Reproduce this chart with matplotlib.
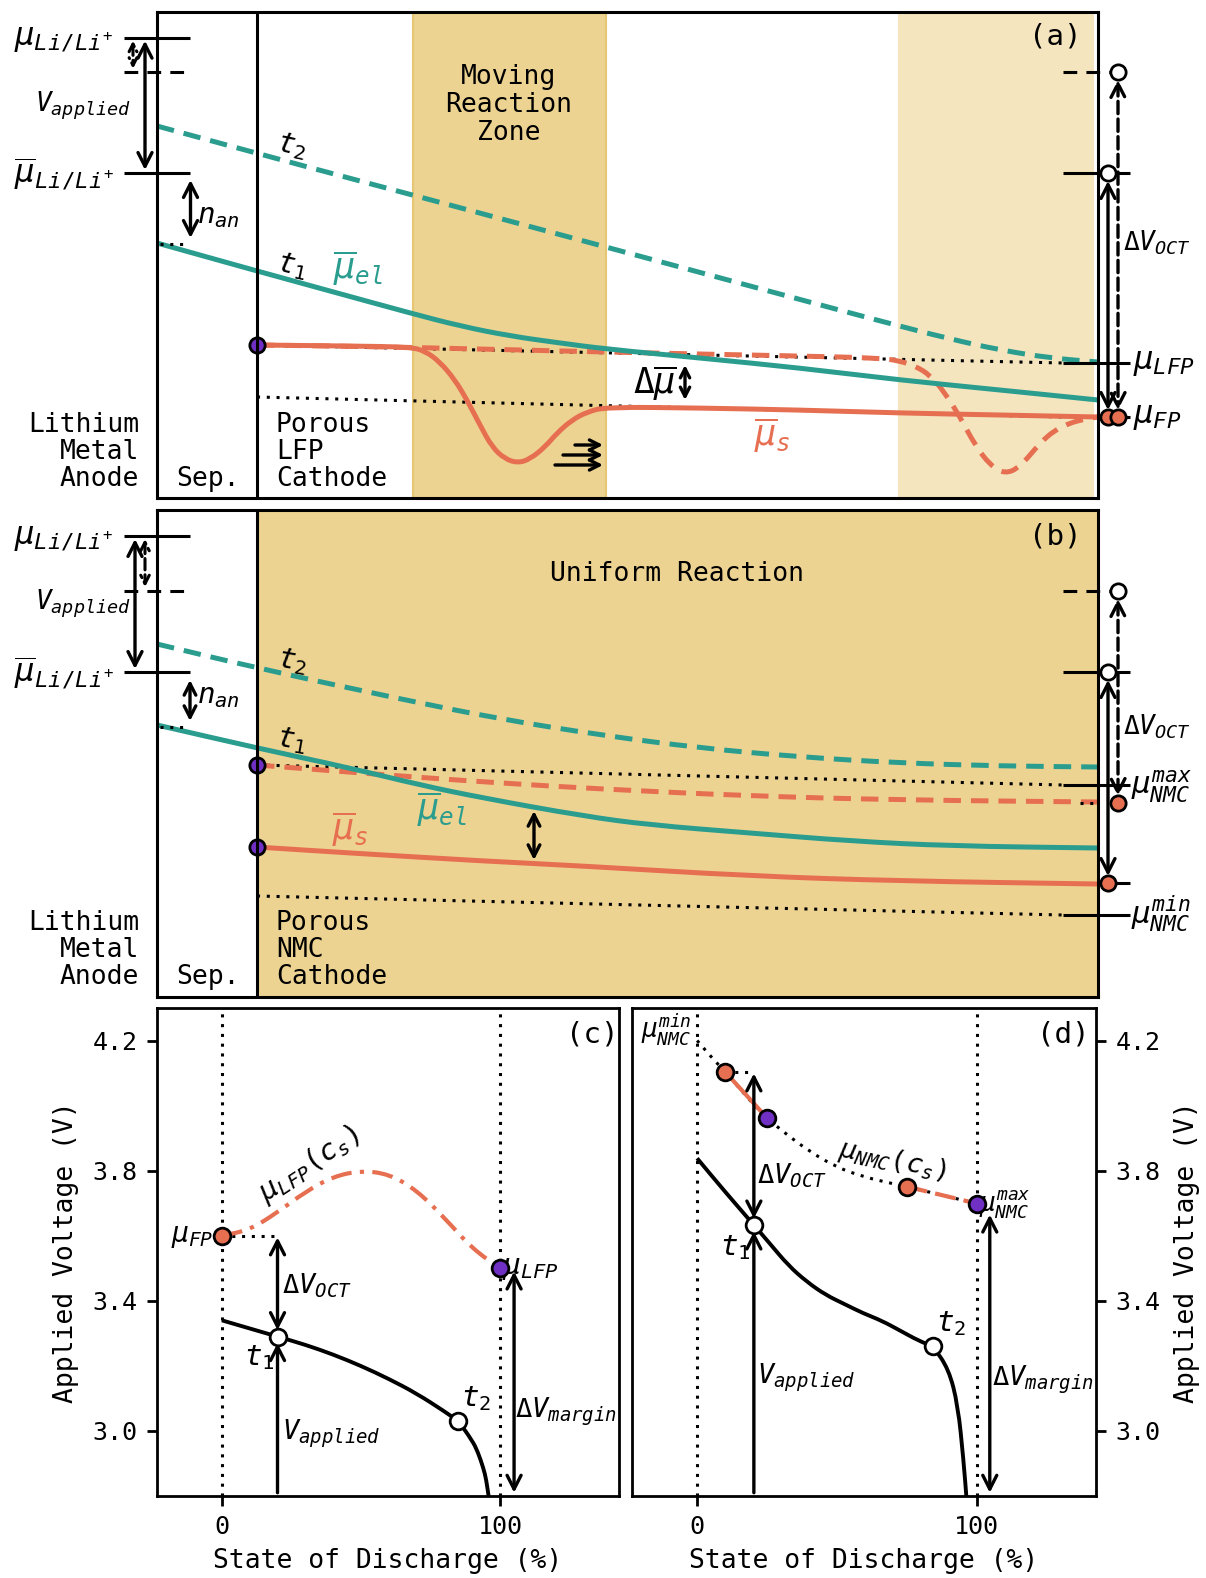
import matplotlib
matplotlib.use('Agg')
import matplotlib.pyplot as plt
from matplotlib.path import Path
from matplotlib.patches import PathPatch

plt.rcParams['font.family'] = ['DejaVu Sans Mono', 'DejaVu Sans']
plt.rcParams['mathtext.fontset'] = 'custom'
plt.rcParams['mathtext.rm'] = 'DejaVu Sans Mono'
plt.rcParams['mathtext.it'] = 'DejaVu Sans Mono:italic'
plt.rcParams['mathtext.bf'] = 'DejaVu Sans Mono:bold'

TEAL = '#2A9D8F'
ORANGE = '#E76F51'
PURPLE = '#7030C4'
BAND = '#EDD391'
BAND_L = '#F4E5BF'
BAND_EDGE = '#E6C675'

# ---------------- panel (a) data : position across cell (x) and potential level (y, downward) ----
a_el_t1_x = [157, 257, 330, 410, 460, 510, 560, 606, 700, 800, 900, 1000, 1098]
a_el_t1_y = [243, 271, 291, 313, 326, 336, 343, 349, 358, 368, 380, 390, 400]
a_el_t2_x = [157, 300, 450, 606, 750, 880, 950, 1000, 1050, 1098]
a_el_t2_y = [126, 165, 205, 247, 286, 321, 339, 350, 358, 362]
a_s_t1_x = [257, 350, 410, 425, 440, 455, 467, 480, 492, 505, 518, 530, 545, 557, 572, 587, 606,
            700, 800, 900, 1000, 1098]
a_s_t1_y = [345, 346, 347, 351, 362, 380, 400, 425, 447, 459, 463, 459, 447, 433, 420, 412, 407,
            408, 410, 413, 415, 417]
a_s_t2_x = [257, 400, 600, 800, 880, 900, 915, 930, 945, 960, 975, 990, 1005, 1020, 1040, 1055,
            1070, 1085, 1098]
a_s_t2_y = [345, 347, 352, 356, 358, 361, 366, 375, 393, 417, 445, 465, 474, 467, 443, 430,
            423, 419, 417]
a_lfp_x = [257, 1063]
a_lfp_y = [345, 363]
a_fp_x = [257, 1063]
a_fp_y = [397, 417]
a_levels_left = [37.7, 71.7, 173]      # mu_Li, mu_Li at t2 (dashed), mu_bar_Li
a_anode_level = 244
a_zone = [413, 606]
a_zone2 = [899, 1093]
a_sep_x = 257
a_right_levels = [72, 173, 363, 417]   # t2 level, t1 level, mu_LFP, mu_FP

# ---------------- panel (b) data ----
b_el_t1_x = [157, 257, 350, 420, 483, 583, 650, 750, 850, 950, 1098]
b_el_t1_y = [725, 748, 768, 785, 798, 816, 825, 833, 841, 846, 848]
b_el_t2_x = [157, 257, 400, 500, 600, 700, 800, 900, 1000, 1098]
b_el_t2_y = [644, 668, 699, 719, 735, 748, 757, 763, 766, 767]
b_s_t1_x = [257, 350, 483, 583, 750, 900, 1098]
b_s_t1_y = [847, 853, 861, 866, 876, 881, 884]
b_s_t2_x = [257, 400, 500, 600, 750, 900, 1098]
b_s_t2_y = [765, 776, 783, 789, 796, 800, 802]
b_max_x = [257, 1063]
b_max_y = [765, 785]
b_min_x = [257, 1063]
b_min_y = [896, 915]
b_levels_left = [536, 591, 672]
b_anode_level = 727
b_right_levels = [591, 672, 785, 883, 915]

# ---------------- panel (c) data : SOD (%) vs voltage (V) ----
c_mu_x = [0, 10, 20, 30, 40, 50, 60, 70, 80, 90, 100]
c_mu_y = [3.600, 3.618, 3.672, 3.735, 3.782, 3.800, 3.790, 3.740, 3.655, 3.560, 3.500]
c_v_x = [0, 10, 20, 30, 40, 50, 60, 70, 80, 85, 90, 92, 94, 95, 96]
c_v_y = [3.34, 3.315, 3.29, 3.265, 3.235, 3.20, 3.16, 3.115, 3.06, 3.03, 2.97, 2.935, 2.885, 2.85, 2.79]
c_t_x = [20, 85]
c_t_y = [3.29, 3.03]
c_fp = (0, 3.60)
c_lfp = (100, 3.50)

# ---------------- panel (d) data ----
d_mu_x = [0, 5, 10, 15, 20, 25, 30, 40, 50, 60, 70, 75, 85, 100]
d_mu_y = [4.20, 4.15, 4.104, 4.055, 4.005, 3.962, 3.925, 3.86, 3.81, 3.78, 3.76, 3.751, 3.73, 3.699]
d_v_x = [0, 10, 20.3, 26, 32.7, 39.3, 46, 52.7, 59.3, 66, 72.7, 79.3, 84.4, 90, 93.3, 95.3, 96.4]
d_v_y = [3.838, 3.735, 3.633, 3.576, 3.508, 3.458, 3.418, 3.39, 3.362, 3.339, 3.308, 3.277, 3.26,
         3.19, 3.079, 2.91, 2.79]
d_t_x = [20.3, 84.4]
d_t_y = [3.633, 3.26]
d_pts_x = [10, 25, 75, 100]
d_pts_y = [4.104, 3.962, 3.751, 3.699]

volt_ticks = [3.0, 3.4, 3.8, 4.2]
sod_ticks = [0, 100]

W, H = 1206, 1578
fig = plt.figure(figsize=(W / 100, H / 100), dpi=100)


def frac(x0, y0, x1, y1):
    return [x0 / W, 1 - y1 / H, (x1 - x0) / W, (y1 - y0) / H]


LW = 3.6
DOT = (0, (1, 2.2))
DASH = (0, (3.5, 2))


def curve(ax, xs, ys, color, lw=LW, ls='-', z=3):
    """Smooth drawing of the read points (quadratic B-spline path through midpoints)."""
    n = len(xs)
    verts = [(xs[0], ys[0])]
    codes = [Path.MOVETO]
    if n > 2:
        verts.append(((xs[0] + xs[1]) / 2, (ys[0] + ys[1]) / 2))
        codes.append(Path.LINETO)
        for i in range(1, n - 1):
            verts.append((xs[i], ys[i]))
            verts.append(((xs[i] + xs[i + 1]) / 2, (ys[i] + ys[i + 1]) / 2))
            codes += [Path.CURVE3, Path.CURVE3]
    verts.append((xs[-1], ys[-1]))
    codes.append(Path.LINETO)
    p = PathPatch(Path(verts, codes), fill=False, edgecolor=color, lw=lw, linestyle=ls,
                  zorder=z, capstyle='butt', joinstyle='round')
    ax.add_patch(p)


def arr(ax, x0, y0, x1, y1, style='<->', ls='-', lw=2.4, ms=18, clip=False):
    ax.annotate('', xy=(x1, y1), xytext=(x0, y0), annotation_clip=clip,
                arrowprops=dict(arrowstyle=style + ',head_length=0.55,head_width=0.28',
                                lw=lw, color='k', ls=ls, shrinkA=0, shrinkB=0,
                                mutation_scale=ms), zorder=6)


def hline(ax, x0, x1, y, ls='-', lw=2.2, color='k', z=4):
    ax.plot([x0, x1], [y, y], color=color, lw=lw, ls=ls, clip_on=False, zorder=z,
            solid_capstyle='butt')


def circ(ax, x, y, fc, ms=11, z=7):
    ax.plot([x], [y], 'o', ms=ms, mfc=fc, mec='k', mew=2, clip_on=False, zorder=z)


def schem_axes(rect, ylim):
    ax = fig.add_axes(rect)
    ax.set_xlim(157, 1098)
    ax.set_ylim(*ylim)
    ax.set_xticks([])
    ax.set_yticks([])
    for s in ax.spines.values():
        s.set_linewidth(2.2)
        s.set_zorder(8)
    return ax


FS = 19
MFS = 23

# ======================= panel (a) =======================
ax = schem_axes(frac(157, 12, 1098, 498), (498, 12))
ax.axvspan(a_zone[0], a_zone[1], facecolor=BAND, edgecolor=BAND_EDGE, lw=1.5, zorder=0)
ax.axvspan(a_zone2[0], a_zone2[1], facecolor=BAND_L, edgecolor=BAND_L, lw=1.5, zorder=0)
ax.axvline(a_sep_x, color='k', lw=2.2, zorder=8)

ax.plot(a_lfp_x, a_lfp_y, color='k', lw=2.2, ls=DOT, zorder=2)
ax.plot(a_fp_x, a_fp_y, color='k', lw=2.2, ls=DOT, zorder=2)
curve(ax, a_el_t2_x, a_el_t2_y, TEAL, ls=DASH)
curve(ax, a_s_t2_x, a_s_t2_y, ORANGE, ls=DASH)
curve(ax, a_s_t1_x, a_s_t1_y, ORANGE)
curve(ax, a_el_t1_x, a_el_t1_y, TEAL)
circ(ax, a_s_t1_x[0], a_s_t1_y[0], PURPLE)

# left side
hline(ax, 124, 190, a_levels_left[0])
hline(ax, 124, 190, a_levels_left[1], ls=(0, (4.5, 3)))
hline(ax, 124, 190, a_levels_left[2])
ax.plot([160, 187], [a_anode_level, a_anode_level], color='k', lw=2.2, ls=DOT, clip_on=False, zorder=4)
arr(ax, 145, a_levels_left[0] + 3, 145, a_levels_left[2] - 3)
arr(ax, 133, a_levels_left[0] + 3, 133, a_levels_left[1] - 3, ls='--', ms=10, lw=2.2)
arr(ax, 190.5, a_levels_left[2] + 7, 190.5, a_anode_level - 6)
ax.text(114, a_levels_left[0], r'$\mu_{Li/Li^{+}}$', ha='right', va='center', fontsize=MFS)
ax.text(131, 106, r'$V_{applied}$', ha='right', va='center', fontsize=19)
ax.text(114, a_levels_left[2], r'$\overline{\mu}_{Li/Li^{+}}$', ha='right', va='center', fontsize=MFS)
ax.text(197, 216, r'$n_{an}$', ha='left', va='center', fontsize=21)

# curve labels
ax.text(292, 146, r'$t_2$', ha='center', va='center', fontsize=21, rotation=-12)
ax.text(292, 266, r'$t_1$', ha='center', va='center', fontsize=21, rotation=-12)
ax.text(358, 268, r'$\overline{\mu}_{el}$', ha='center', va='center', fontsize=25, color=TEAL)
ax.text(772, 435, r'$\overline{\mu}_{s}$', ha='center', va='center', fontsize=25, color=ORANGE)
ax.text(655, 383, r'$\Delta\overline{\mu}$', ha='center', va='center', fontsize=25)
arr(ax, 685, 365, 685, 400, ms=12)
for xs, yy in zip([575, 563, 555], [445, 455, 465]):
    arr(ax, xs, yy, 603, yy, style='->', ms=13)
ax.text(509, 105, 'Moving\nReaction\nZone', ha='center', va='center', fontsize=FS,
        linespacing=1.08)
ax.text(1055, 37, '(a)', ha='center', va='center', fontsize=21)
ax.text(139, 452, 'Lithium\nMetal\nAnode', ha='right', va='center', fontsize=FS,
        multialignment='right', linespacing=1.06)
ax.text(176, 479, 'Sep.', ha='left', va='center', fontsize=FS)
ax.text(276, 452, 'Porous\nLFP\nCathode', ha='left', va='center', fontsize=FS, linespacing=1.06)

# right side
hline(ax, 1063, 1112, a_right_levels[0], ls=(0, (4.5, 3)))
hline(ax, 1063, 1130, a_right_levels[1])
hline(ax, 1063, 1130, a_right_levels[2])
hline(ax, 1098, 1130, a_right_levels[3])
arr(ax, 1108, a_right_levels[1] + 8, 1108, a_right_levels[3] - 7)
arr(ax, 1118, a_right_levels[0] + 8, 1118, a_right_levels[3] - 7, ls='--')
circ(ax, 1118, a_right_levels[0], 'white', ms=11)
circ(ax, 1108, a_right_levels[1], 'white', ms=11)
circ(ax, 1108, a_right_levels[3], ORANGE, ms=11)
circ(ax, 1118, a_right_levels[3], ORANGE, ms=11)
ax.text(1123, 243, r'$\Delta V_{OCT}$', ha='left', va='center', fontsize=19)
ax.text(1133, a_right_levels[2], r'$\mu_{LFP}$', ha='left', va='center', fontsize=MFS)
ax.text(1133, a_right_levels[3], r'$\mu_{FP}$', ha='left', va='center', fontsize=MFS)

# ======================= panel (b) =======================
ax = schem_axes(frac(157, 510, 1098, 997), (997, 510))
ax.axvspan(a_sep_x, 1098, facecolor=BAND, edgecolor='none', zorder=0)
ax.axvline(a_sep_x, color='k', lw=2.2, zorder=8)
ax.plot(b_max_x, b_max_y, color='k', lw=2.2, ls=DOT, zorder=2)
ax.plot(b_min_x, b_min_y, color='k', lw=2.2, ls=DOT, zorder=2)
curve(ax, b_el_t2_x, b_el_t2_y, TEAL, ls=DASH)
curve(ax, b_s_t2_x, b_s_t2_y, ORANGE, ls=DASH)
curve(ax, b_s_t1_x, b_s_t1_y, ORANGE)
curve(ax, b_el_t1_x, b_el_t1_y, TEAL)
circ(ax, b_s_t2_x[0], b_s_t2_y[0], PURPLE)
circ(ax, b_s_t1_x[0], b_s_t1_y[0], PURPLE)

hline(ax, 124, 190, b_levels_left[0])
hline(ax, 124, 190, b_levels_left[1], ls=(0, (4.5, 3)))
hline(ax, 124, 190, b_levels_left[2])
ax.plot([160, 187], [b_anode_level, b_anode_level], color='k', lw=2.2, ls=DOT, clip_on=False, zorder=4)
arr(ax, 135, b_levels_left[0] + 3, 135, b_levels_left[2] - 3)
arr(ax, 145, b_levels_left[0] + 3, 145, b_levels_left[1] - 4, ls='--', ms=11, lw=2.2)
arr(ax, 190, b_levels_left[2] + 8, 190, b_anode_level - 6, ms=15)
ax.text(114, b_levels_left[0], r'$\mu_{Li/Li^{+}}$', ha='right', va='center', fontsize=MFS)
ax.text(131, 604, r'$V_{applied}$', ha='right', va='center', fontsize=19)
ax.text(114, b_levels_left[2], r'$\overline{\mu}_{Li/Li^{+}}$', ha='right', va='center', fontsize=MFS)
ax.text(197, 696, r'$n_{an}$', ha='left', va='center', fontsize=21)

ax.text(292, 661, r'$t_2$', ha='center', va='center', fontsize=21, rotation=-10)
ax.text(292, 740, r'$t_1$', ha='center', va='center', fontsize=21, rotation=-10)
ax.text(350, 829, r'$\overline{\mu}_{s}$', ha='center', va='center', fontsize=25, color=ORANGE)
ax.text(442, 809, r'$\overline{\mu}_{el}$', ha='center', va='center', fontsize=25, color=TEAL)
arr(ax, 534, 811, 534, 860, ms=15)
ax.text(677, 574, 'Uniform Reaction', ha='center', va='center', fontsize=FS)
ax.text(1055, 537, '(b)', ha='center', va='center', fontsize=21)
ax.text(139, 950, 'Lithium\nMetal\nAnode', ha='right', va='center', fontsize=FS,
        multialignment='right', linespacing=1.06)
ax.text(176, 977, 'Sep.', ha='left', va='center', fontsize=FS)
ax.text(276, 950, 'Porous\nNMC\nCathode', ha='left', va='center', fontsize=FS, linespacing=1.06)

hline(ax, 1063, 1112, b_right_levels[0], ls=(0, (4.5, 3)))
hline(ax, 1063, 1130, b_right_levels[1])
hline(ax, 1063, 1130, b_right_levels[2])
hline(ax, 1080, 1098, 803, ls=DOT)
hline(ax, 1098, 1130, b_right_levels[3])
hline(ax, 1063, 1130, b_right_levels[4])
arr(ax, 1108, b_right_levels[1] + 8, 1108, b_right_levels[3] - 7)
arr(ax, 1118, b_right_levels[0] + 8, 1118, 796, ls='--')
circ(ax, 1118, b_right_levels[0], 'white')
circ(ax, 1108, b_right_levels[1], 'white')
circ(ax, 1118, 803, ORANGE)
circ(ax, 1108, b_right_levels[3], ORANGE)
ax.text(1123, 727, r'$\Delta V_{OCT}$', ha='left', va='center', fontsize=19)
ax.text(1131, 787, r'$\mu^{max}_{NMC}$', ha='left', va='center', fontsize=22)
ax.text(1131, 914, r'$\mu^{min}_{NMC}$', ha='left', va='center', fontsize=22)


# ======================= panels (c), (d) =======================
def volt_axes(rect, right=False):
    ax = fig.add_axes(rect)
    ax.set_xlim(-23.3, 142.7)
    ax.set_ylim(2.8, 4.3)
    ax.set_xticks(sod_ticks)
    ax.set_yticks(volt_ticks)
    ax.set_yticklabels([f'{v:.1f}' for v in volt_ticks])
    for s in ax.spines.values():
        s.set_linewidth(2.0)
    ax.tick_params(direction='out', length=7, width=2, labelsize=18, pad=7)
    if right:
        ax.yaxis.tick_right()
        ax.yaxis.set_label_position('right')
    ax.set_xlabel('State of Discharge (%)', fontsize=FS, labelpad=6)
    ax.set_ylabel('Applied Voltage (V)', fontsize=FS, labelpad=10)
    for xv in sod_ticks:
        ax.axvline(xv, color='k', lw=2.2, ls=DOT, zorder=1)
    return ax


ax = volt_axes(frac(157, 1008, 619, 1496))
curve(ax, c_mu_x, c_mu_y, ORANGE, lw=3, ls=(0, (5, 2, 1, 2)))
curve(ax, c_v_x, c_v_y, 'k', lw=2.8)
ax.plot([c_fp[0], 20], [c_fp[1], c_fp[1]], color='k', lw=2.2, ls=DOT, zorder=2)
arr(ax, 20, c_fp[1] - 0.005, 20, c_t_y[0] + 0.02, clip=True)
arr(ax, 20, 2.81, 20, c_t_y[0] - 0.02, style='->', clip=True)
arr(ax, 105, c_lfp[1] - 0.01, 105, 2.81, clip=True)
ax.plot(c_t_x, c_t_y, 'o', ms=12, mfc='white', mec='k', mew=2, zorder=6)
ax.plot([c_fp[0]], [c_fp[1]], 'o', ms=12, mfc=ORANGE, mec='k', mew=2, zorder=6)
ax.plot([c_lfp[0]], [c_lfp[1]], 'o', ms=12, mfc=PURPLE, mec='k', mew=2, zorder=6)
ax.text(-3, 3.60, r'$\mu_{FP}$', ha='right', va='center', fontsize=20)
ax.text(100.5, 3.50, r'$\mu_{LFP}$', ha='left', va='center', fontsize=21)
ax.text(21.5, 3.445, r'$\Delta V_{OCT}$', ha='left', va='center', fontsize=19.5)
ax.text(13.5, 3.225, r'$t_1$', ha='center', va='center', fontsize=21)
ax.text(91.5, 3.10, r'$t_2$', ha='center', va='center', fontsize=21)
ax.text(21.5, 2.99, r'$V_{applied}$', ha='left', va='center', fontsize=19.5)
ax.text(105.5, 3.06, r'$\Delta V_{margin}$', ha='left', va='center', fontsize=19.5)
ax.text(31.5, 3.82, r'$\mu_{LFP}(c_s)$', ha='center', va='center', fontsize=20.5, rotation=33)
ax.text(133, 4.22, '(c)', ha='center', va='center', fontsize=21)

ax = volt_axes(frac(632, 1008, 1096, 1496), right=True)
curve(ax, d_mu_x, d_mu_y, 'k', lw=2.2, ls=DOT, z=2)
ax.plot(d_pts_x[:2], d_pts_y[:2], color=ORANGE, lw=3, zorder=3)
ax.plot(d_pts_x[2:], d_pts_y[2:], color=ORANGE, lw=3, ls=(0, (5, 2)), zorder=3)
curve(ax, d_v_x, d_v_y, 'k', lw=2.8)
ax.plot([d_pts_x[0], 20], [d_pts_y[0], d_pts_y[0]], color='k', lw=2.2, ls=DOT, zorder=2)
arr(ax, 20.3, d_pts_y[0] - 0.005, 20.3, d_t_y[0] + 0.02, clip=True)
arr(ax, 20.3, 2.81, 20.3, d_t_y[0] - 0.02, style='->', clip=True)
arr(ax, 104.7, 3.665, 104.7, 2.81, clip=True)
ax.plot(d_t_x, d_t_y, 'o', ms=12, mfc='white', mec='k', mew=2, zorder=6)
ax.plot(d_pts_x[0::2], d_pts_y[0::2], 'o', ms=12, mfc=ORANGE, mec='k', mew=2, zorder=6)
ax.plot(d_pts_x[1::2], d_pts_y[1::2], 'o', ms=12, mfc=PURPLE, mec='k', mew=2, zorder=6)
ax.text(-2, 4.235, r'$\mu^{min}_{NMC}$', ha='right', va='center', fontsize=18.5)
ax.text(101, 3.695, r'$\mu^{max}_{NMC}$', ha='left', va='center', fontsize=18.5)
ax.text(21.5, 3.785, r'$\Delta V_{OCT}$', ha='left', va='center', fontsize=19.5)
ax.text(13.5, 3.565, r'$t_1$', ha='center', va='center', fontsize=21)
ax.text(91, 3.33, r'$t_2$', ha='center', va='center', fontsize=21)
ax.text(21.5, 3.164, r'$V_{applied}$', ha='left', va='center', fontsize=19.5)
ax.text(105.5, 3.158, r'$\Delta V_{margin}$', ha='left', va='center', fontsize=19.5)
ax.text(70, 3.83, r'$\mu_{NMC}(c_s)$', ha='center', va='center', fontsize=19.5, rotation=-12)
ax.text(131, 4.22, '(d)', ha='center', va='center', fontsize=21)

fig.savefig('out.png', dpi=100)
